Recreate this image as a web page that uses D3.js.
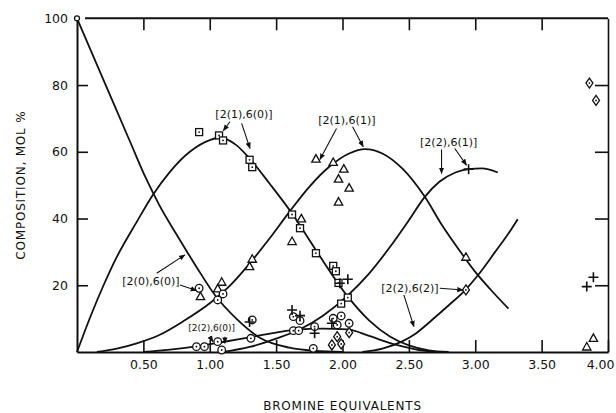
<!DOCTYPE html>
<meta charset="utf-8">
<style>
body { margin: 0; background: #fff; }
svg text { font-family: "DejaVu Sans", "Liberation Sans", sans-serif; }
.axis .domain { stroke: #111; stroke-width: 2; }
.axis line { stroke: #111; stroke-width: 1.6; }
.axis text { font-size: 12.5px; fill: #111; }
.curve { fill: none; stroke: #111; stroke-width: 1.8; }
.mk { fill: #fff; stroke: #111; stroke-width: 1.3; }
.dot { fill: #111; }
.lab { font-size: 11px; fill: #111; }
.arrow { stroke: #111; stroke-width: 1.1; }
.title { font-size: 12px; fill: #111; letter-spacing: 0.8px; }
</style>
<svg width="616" height="413"></svg>
<script src="https://d3js.org/d3.v7.min.js"></script>
<script>
// tick values
var xTicks = [0.5, 1, 1.5, 2, 2.5, 3, 3.5, 4];
var yTicks = [20, 40, 60, 80, 100];

// fitted curves (bromine equivalents, mol %)
var curve2060 = [[0,100],[0.2,81.5],[0.4,63],[0.52,52],[0.62,44],[0.75,35.2],[0.9,25.5],[1.04,17],[1.2,10],[1.38,4.2],[1.6,1.3],[1.8,0.3],[2.0,0]];
var curve2160 = [[0,0],[0.1,10.5],[0.2,20],[0.3,28.5],[0.45,39],[0.57,47],[0.7,54],[0.85,60],[1.0,63.5],[1.08,64.2],[1.2,62],[1.3,58],[1.45,50.5],[1.62,41.5],[1.8,30.5],[2.04,16.6],[2.2,9.5],[2.36,4.6],[2.5,2],[2.65,0.5],[2.8,0]];
var curve2161 = [[0.15,0],[0.3,1],[0.45,2.6],[0.62,5.1],[0.8,9.2],[1.0,14.6],[1.15,19.8],[1.3,26.5],[1.45,34],[1.6,42],[1.75,49.5],[1.9,55.5],[2.05,59.5],[2.17,60.8],[2.3,59.5],[2.45,55],[2.62,46.5],[2.75,38],[2.88,30.5],[3.0,24],[3.12,18.5],[3.25,13]];
var curve2261 = [[1.1,0],[1.3,1.5],[1.5,4],[1.68,6.8],[1.85,10.8],[2.03,16.6],[2.2,23.5],[2.36,31.6],[2.5,39.5],[2.62,46.5],[2.73,51],[2.85,53.8],[2.95,54.8],[3.05,55],[3.17,53.8]];
var curve2262 = [[2.15,0],[2.3,1],[2.45,3.2],[2.55,5.5],[2.68,9.8],[2.8,14],[2.93,18.8],[3.02,23],[3.15,30],[3.25,35.5],[3.32,39.8]];
var curve2260 = [[0.5,0],[0.7,0.7],[0.9,1.7],[1.1,3],[1.3,4.4],[1.5,5.8],[1.65,6.7],[1.85,7],[2.04,6.8],[2.2,4.8],[2.4,2.2],[2.55,0.8],[2.7,0]];

// measured points
var squares = [[0.92,65.9],[1.07,64.9],[1.10,63.4],[1.30,57.6],[1.32,55.4],[1.62,41.2],[1.68,37.1],[1.80,29.6],[1.93,25.8],[1.95,24.2],[1.97,20.7],[2.04,16.3],[1.99,14.5]];
var triangles = [[0.93,16.6],[1.06,18.9],[1.09,20.9],[1.30,25.6],[1.32,27.8],[1.62,33.1],[1.69,39.9],[1.80,57.8],[1.93,56.8],[2.01,54.8],[1.97,51.8],[2.05,49.1],[1.97,44.9],[2.93,28.4],[3.84,1.5],[3.89,4.1]];
var crosses = [[1.30,9.0],[1.62,12.6],[1.68,10.9],[1.79,5.6],[1.92,8.6],[1.98,20.6],[2.04,21.8],[2.95,54.8],[3.84,19.6],[3.89,22.4]];
var diamonds = [[1.92,2.1],[1.96,4.6],[1.99,2.4],[2.05,5.8],[2.93,18.6],[3.86,80.6],[3.91,75.4]];
var circles = [[0,100],[0.92,19.1],[1.06,15.6],[1.10,17.4],[1.32,9.6],[1.31,4.1],[1.63,10.6],[1.68,9.4],[1.63,6.4],[1.67,6.4],[1.79,7.6],[1.78,1.1],[1.93,10.1],[1.99,10.8],[2.05,8.6],[1.96,8.1],[0.90,1.6],[0.96,1.6],[1.06,3.1],[1.09,0.6]];

// curve labels: text, label centre, arrows (data units)
var annotations = [
  {text: "[2(1),6(0)]", at: [1.258, 71.3], size: 11, arrows: [[[1.152,69.0],[1.102,66.3]], [[1.24,68.5],[1.303,61.0]]]},
  {text: "[2(1),6(1)]", at: [2.033, 69.5], size: 11, arrows: [[[1.955,67.0],[1.83,57.7]], [[2.076,67.5],[2.156,61.5]]]},
  {text: "[2(2),6(1)]", at: [2.80, 62.9], size: 11, arrows: [[[2.746,60.7],[2.746,53.5]], [[2.846,61.0],[2.934,56.0]]]},
  {text: "[2(0),6(0)]", at: [0.557, 21.3], size: 11, arrows: [[[0.60,23.6],[0.813,29.1]], [[0.776,20.1],[0.901,18.4]]]},
  {text: "[2(2),6(0)]", at: [1.014, 7.2], size: 9, arrows: [[[1.0,4.6],[1.024,3.1]], [[1.114,4.6],[1.114,2.6]]]},
  {text: "[2(2),6(2)]", at: [2.508, 19.2], size: 11, arrows: [[[2.733,19.1],[2.909,18.6]], [[2.462,17.1],[2.538,7.6]]]}
];

var svg = d3.select("svg");
var x = d3.scaleLinear().domain([0, 4]).range([77, 608]);
var y = d3.scaleLinear().domain([0, 100]).range([352, 18.3]);

svg.append("defs").append("marker")
    .attr("id", "head").attr("viewBox", "0 0 10 10")
    .attr("refX", 9).attr("refY", 5)
    .attr("markerWidth", 6).attr("markerHeight", 6)
    .attr("orient", "auto")
  .append("path").attr("d", "M0,1 L10,5 L0,9 Z").attr("fill", "#111");

// axes
var leftAx = svg.append("g").attr("class", "axis")
    .attr("transform", "translate(" + x(0) + ",0)")
    .call(d3.axisLeft(y).tickValues(yTicks).tickSize(-11).tickSizeOuter(0).tickPadding(9));
leftAx.selectAll(".tick").filter(d => d === 100).select("line").remove();

var bottomAx = svg.append("g").attr("class", "axis")
    .attr("transform", "translate(0," + y(0) + ")")
    .call(d3.axisBottom(x).tickValues(xTicks).tickSize(-12).tickSizeOuter(0).tickPadding(8).tickFormat(d3.format(".2f")));
// last label sits against the page edge
bottomAx.selectAll(".tick").filter(d => d === 4).select("text").attr("text-anchor", "end").attr("dx", 6);

var topAx = svg.append("g").attr("class", "axis")
    .attr("transform", "translate(0," + y(100) + ")")
    .call(d3.axisTop(x).tickValues(xTicks.slice(0, -1)).tickSize(-12).tickSizeOuter(0).tickFormat(""));
topAx.select(".domain").attr("d", "M" + (x(0) + 8) + ",0H" + x(4));

var rightAx = svg.append("g").attr("class", "axis")
    .attr("transform", "translate(" + x(4) + ",0)")
    .call(d3.axisRight(y).tickValues(yTicks.slice(0, -1)).tickSize(-13).tickSizeOuter(0).tickFormat(""));
rightAx.select(".domain").style("stroke-width", 1.6);

// axis titles
svg.append("text").attr("class", "title")
    .attr("transform", "translate(21," + y(50) + ") rotate(-90)")
    .attr("text-anchor", "middle").attr("dy", "0.35em")
    .text("COMPOSITION, MOL %");
svg.append("text").attr("class", "title")
    .attr("x", x(2)).attr("y", 406)
    .attr("text-anchor", "middle").attr("dy", "0.35em")
    .text("BROMINE EQUIVALENTS");

// curves
var line = d3.line().x(d => x(d[0])).y(d => y(d[1])).curve(d3.curveMonotoneX);
[curve2060, curve2160, curve2161, curve2261, curve2262, curve2260].forEach(function(c) {
  svg.append("path").attr("class", "curve").attr("d", line(c));
});

// markers
var pts = svg.append("g");
pts.selectAll(".sq").data(squares).enter().append("rect").attr("class", "mk")
    .attr("x", d => x(d[0]) - 3.5).attr("y", d => y(d[1]) - 3.5)
    .attr("width", 7).attr("height", 7);
pts.selectAll(".tri").data(triangles).enter().append("path").attr("class", "mk")
    .attr("d", d => "M" + x(d[0]) + "," + (y(d[1]) - 4.5) + "l4.2,7.5h-8.4z");
pts.selectAll(".dia").data(diamonds).enter().append("path").attr("class", "mk")
    .attr("d", d => "M" + x(d[0]) + "," + (y(d[1]) - 5) + "l3.5,5l-3.5,5l-3.5,-5z");
pts.selectAll(".ci").data(circles).enter().append("circle").attr("class", "mk")
    .attr("cx", d => x(d[0])).attr("cy", d => y(d[1]))
    .attr("r", (d, i) => i === 0 ? 2.5 : 3.8);
pts.selectAll(".dot").data(squares.concat(circles.slice(1), diamonds)).enter().append("circle").attr("class", "dot")
    .attr("cx", d => x(d[0])).attr("cy", d => y(d[1])).attr("r", 0.9);
pts.selectAll(".cr").data(crosses).enter().append("path")
    .attr("d", d => "M" + (x(d[0]) - 5) + "," + y(d[1]) + "h10M" + x(d[0]) + "," + (y(d[1]) - 5) + "v10")
    .attr("stroke", "#111").attr("stroke-width", 1.6);

// labels with arrows
var ann = svg.selectAll(".ann").data(annotations).enter().append("g");
ann.append("text").attr("class", "lab")
    .attr("x", d => x(d.at[0])).attr("y", d => y(d.at[1]))
    .attr("text-anchor", "middle").attr("dy", "0.35em")
    .style("font-size", d => d.size + "px")
    .text(d => d.text);
ann.selectAll("line").data(d => d.arrows).enter().append("line").attr("class", "arrow")
    .attr("x1", a => x(a[0][0])).attr("y1", a => y(a[0][1]))
    .attr("x2", a => x(a[1][0])).attr("y2", a => y(a[1][1]))
    .attr("marker-end", "url(#head)");
</script>
